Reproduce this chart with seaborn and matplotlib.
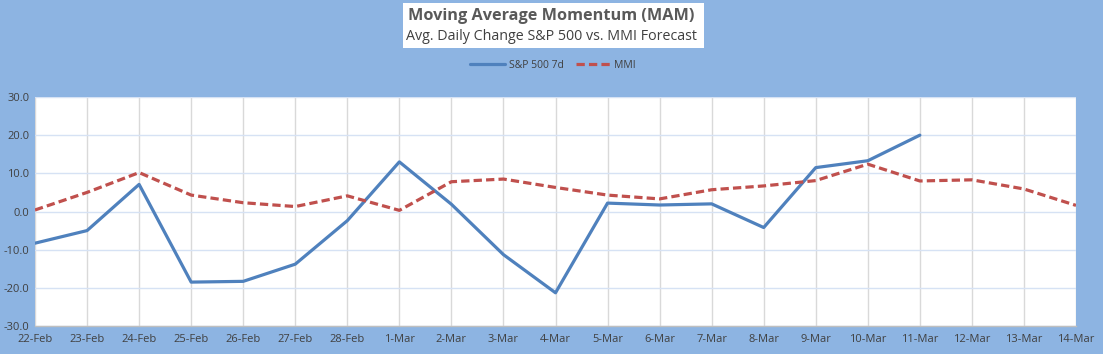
import numpy as np
import pandas as pd
import matplotlib
matplotlib.use('Agg')
import matplotlib.pyplot as plt
import seaborn as sns

dates = ['22-Feb', '23-Feb', '24-Feb', '25-Feb', '26-Feb', '27-Feb', '28-Feb',
         '1-Mar', '2-Mar', '3-Mar', '4-Mar', '5-Mar', '6-Mar', '7-Mar',
         '8-Mar', '9-Mar', '10-Mar', '11-Mar', '12-Mar', '13-Mar', '14-Mar']
sp500_7d = [-8.3, -5.0, 7.1, -18.5, -18.3, -13.8, -2.4,
            13.0, 1.9, -11.3, -21.3, 2.2, 1.7, 2.0,
            -4.2, 11.5, 13.3, 20.0, np.nan, np.nan, np.nan]
mmi = [0.4, 5.0, 10.2, 4.3, 2.3, 1.3, 4.1,
       0.3, 7.8, 8.5, 6.3, 4.3, 3.3, 5.7,
       6.7, 8.1, 12.4, 8.0, 8.3, 5.9, 1.6]
series_names = ['S&P 500 7d', 'MMI']

bg = '#8DB4E2'
txt = '#404040'
lw = 2.3
dash = (2.6, 1.3)

df = pd.DataFrame({'x': list(range(len(dates))) * 2,
                   'value': sp500_7d + mmi,
                   'series': [series_names[0]] * len(dates) + [series_names[1]] * len(dates)})

sns.set_style('white')
plt.rcParams['font.family'] = ['Open Sans', 'DejaVu Sans']

fig = plt.figure(figsize=(11.03, 3.54), dpi=100, facecolor=bg)
ax = fig.add_axes([35 / 1103, 1 - 326 / 354, (1076 - 35) / 1103, (326 - 97) / 354])
ax.set_facecolor('white')

sns.lineplot(data=df, x='x', y='value', hue='series', style='series',
             palette={'S&P 500 7d': '#4F81BD', 'MMI': '#C0504D'},
             dashes={'S&P 500 7d': '', 'MMI': dash},
             linewidth=lw, ax=ax, legend=False, sort=False)

ax.set_xlim(0, len(dates) - 1)
ax.set_ylim(-30, 30)
ax.set_xticks(range(len(dates)))
ax.set_xticklabels(dates)
ax.set_yticks(np.arange(-30, 31, 10))
ax.set_yticklabels([f'{v:.1f}' for v in np.arange(-30, 31, 10)])
ax.set_xlabel('')
ax.set_ylabel('')

ax.set_axisbelow(True)
ax.xaxis.grid(True, color='#D9D9D9', linewidth=1)
ax.yaxis.grid(True, color='#D6E2F4', linewidth=1)
for s in ['top', 'right', 'left']:
    ax.spines[s].set_visible(False)
ax.spines['bottom'].set_color('#BFBFBF')
ax.spines['bottom'].set_linewidth(1)
ax.tick_params(axis='x', length=4, color='#BFBFBF', labelsize=8, labelcolor=txt, pad=2)
ax.tick_params(axis='y', length=0, labelsize=8, labelcolor=txt, pad=4)

# title box
fig.add_artist(matplotlib.patches.Rectangle((403 / 1103, 1 - 48 / 354), 301 / 1103, 45 / 354,
                                            transform=fig.transFigure, facecolor='white',
                                            edgecolor='none', zorder=0))
fig.text(0.5, 1 - 16 / 354, 'Moving Average Momentum (MAM)', ha='center', va='center',
         fontsize=11.7, fontweight='bold', color='#595959', zorder=2)
fig.text(0.5, 1 - 36 / 354, 'Avg. Daily Change S&P 500 vs. MMI Forecast', ha='center', va='center',
         fontsize=10.3, color='#404040', zorder=2)

# legend
handles = [matplotlib.lines.Line2D([], [], color='#4F81BD', linewidth=lw),
           matplotlib.lines.Line2D([], [], color='#C0504D', linewidth=lw, linestyle=(0, dash))]
fig.legend(handles, series_names, loc='center', bbox_to_anchor=(553 / 1103, 1 - 65 / 354),
           ncol=2, frameon=False, fontsize=7.5, labelcolor=txt, handlelength=3.4,
           handletextpad=0.3, columnspacing=1.2)

fig.savefig('out.png', dpi=100, facecolor=bg)
